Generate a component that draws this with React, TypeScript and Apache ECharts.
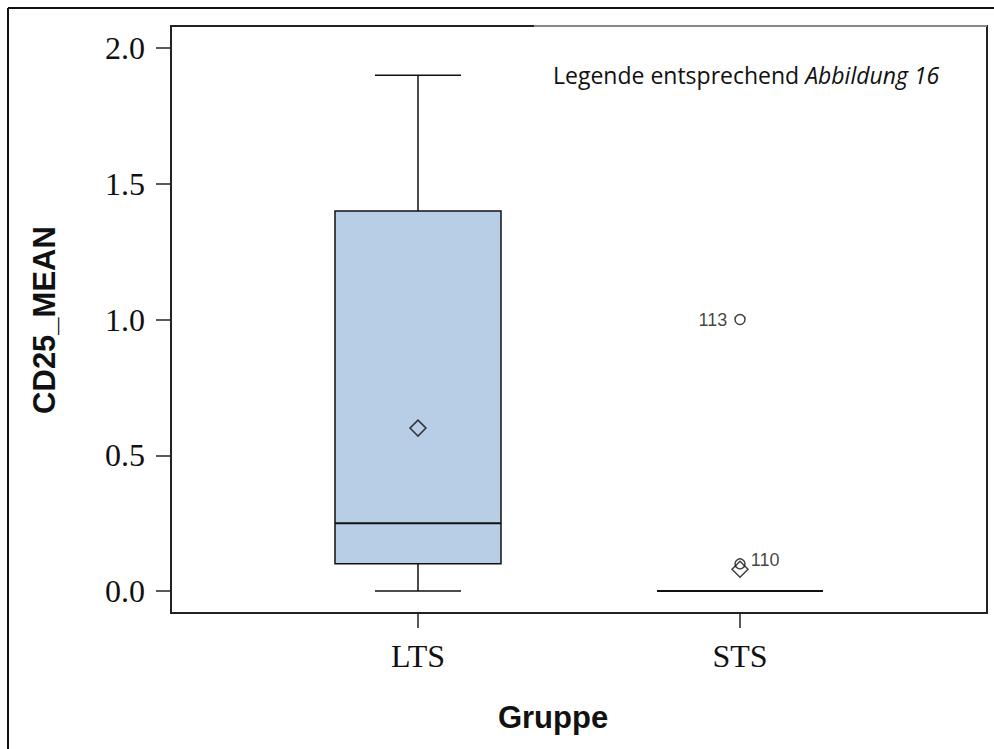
import React, { useEffect, useRef } from "react";
import * as echarts from "echarts";

const categories = ["LTS", "STS"];
// [x, min, q1, median, q3, max]
const boxStats = [
  [1, 0.0, 0.1, 0.25, 1.4, 1.9],
  [2, 0.0, 0.0, 0.0, 0.0, 0.0],
];
const means = [
  [1, 0.6],
  [2, 0.08],
];
const outliers = [
  { value: [2, 1.0], id: "113", side: "left" },
  { value: [2, 0.1], id: "110", side: "right" },
];
const yTicks = [0, 0.5, 1.0, 1.5, 2.0];
const xTicks = [1, 2];

export default function App() {
  const ref = useRef<HTMLDivElement>(null);
  useEffect(() => {
    const chart = echarts.init(ref.current!, undefined, { renderer: "svg" });
    const option: any = {
      animation: false,
      backgroundColor: "#fff",
      grid: {
        left: 171,
        top: 26,
        right: 7,
        bottom: 136,
        show: true,
        borderColor: "#222",
        borderWidth: 2,
        backgroundColor: "transparent",
        outerBoundsMode: "none",
      },
      xAxis: {
        type: "value",
        min: 0.233,
        max: 2.767,
        axisLine: { show: false, onZero: false },
        splitLine: { show: false },
        axisTick: {
          show: true,
          customValues: xTicks,
          length: 15,
          lineStyle: { color: "#222", width: 1.5 },
        },
        axisLabel: {
          customValues: xTicks,
          formatter: (v: number) => categories[Math.round(v) - 1] ?? "",
          fontFamily: "Liberation Serif",
          fontSize: 32,
          color: "#111",
          margin: 27,
        },
      },
      yAxis: {
        type: "value",
        min: -0.081,
        max: 2.081,
        axisLine: { show: false, onZero: false },
        splitLine: { show: false },
        axisTick: {
          show: true,
          customValues: yTicks,
          length: 15,
          lineStyle: { color: "#222", width: 1.5 },
        },
        axisLabel: {
          customValues: yTicks,
          formatter: (v: number) => v.toFixed(1),
          fontFamily: "Liberation Serif",
          fontSize: 32,
          color: "#111",
          margin: 26,
        },
      },
      series: [
        {
          type: "custom",
          data: boxStats,
          encode: { x: 0, y: [1, 2, 3, 4, 5] },
          renderItem: (params: any, api: any) => {
            const x = api.value(0);
            const pMin = api.coord([x, api.value(1)]);
            const pQ1 = api.coord([x, api.value(2)]);
            const pMed = api.coord([x, api.value(3)]);
            const pQ3 = api.coord([x, api.value(4)]);
            const pMax = api.coord([x, api.value(5)]);
            const cx = pQ1[0];
            const hw = 83;
            const cw = 43;
            const ls = { stroke: "#111", lineWidth: 1.5 };
            return {
              type: "group",
              children: [
                { type: "line", shape: { x1: cx, y1: pMin[1], x2: cx, y2: pQ1[1] }, style: ls },
                { type: "line", shape: { x1: cx, y1: pQ3[1], x2: cx, y2: pMax[1] }, style: ls },
                { type: "line", shape: { x1: cx - cw, y1: pMin[1], x2: cx + cw, y2: pMin[1] }, style: ls },
                { type: "line", shape: { x1: cx - cw, y1: pMax[1], x2: cx + cw, y2: pMax[1] }, style: ls },
                {
                  type: "rect",
                  shape: { x: cx - hw, y: pQ3[1], width: 2 * hw, height: pQ1[1] - pQ3[1] },
                  style: { fill: "#b8cee7", stroke: "#111", lineWidth: 1.5 },
                },
                { type: "line", shape: { x1: cx - hw, y1: pMed[1], x2: cx + hw, y2: pMed[1] }, style: { stroke: "#111", lineWidth: 2 } },
              ],
            };
          },
          z: 2,
        },
        {
          type: "scatter",
          data: means,
          symbol: "diamond",
          symbolSize: 16,
          itemStyle: { color: "transparent", borderColor: "#111", borderWidth: 1.5 },
          z: 5,
        },
        {
          type: "scatter",
          data: outliers.map((o) => ({
            value: o.value,
            label: {
              show: true,
              formatter: o.id,
              position: o.side === "left" ? "left" : "right",
              offset: o.side === "left" ? [-2, 0] : [0, -4],
              fontFamily: "Liberation Sans",
              fontSize: 18,
              color: "#111",
            },
          })),
          symbol: "circle",
          symbolSize: 10,
          itemStyle: { color: "transparent", borderColor: "#111", borderWidth: 1.5 },
          z: 5,
        },
      ],
      graphic: [
        {
          type: "line",
          shape: { x1: 8, y1: 8, x2: 994, y2: 8 },
          style: { stroke: "#111", lineWidth: 2 },
        },
        {
          type: "line",
          shape: { x1: 8, y1: 8, x2: 8, y2: 749 },
          style: { stroke: "#111", lineWidth: 2 },
        },
        {
          type: "line",
          shape: { x1: 534, y1: 26, x2: 987, y2: 26 },
          style: { stroke: "#888", lineWidth: 2 },
          z: 10,
        },
        {
          type: "text",
          x: 553,
          y: 75,
          style: {
            text: "{n|Legende entsprechend }{i|Abbildung 16}",
            verticalAlign: "middle",
            rich: {
              n: { fontFamily: "Open Sans", fontSize: 23, fill: "#111" },
              i: { fontFamily: "Open Sans", fontSize: 23, fontStyle: "italic", fill: "#111" },
            },
          },
        },
        {
          type: "text",
          x: 44,
          y: 320,
          rotation: Math.PI / 2,
          style: {
            text: "CD25_MEAN",
            fontFamily: "Liberation Sans",
            fontWeight: "bold",
            fontSize: 31,
            fill: "#111",
            align: "center",
            verticalAlign: "middle",
          },
        },
        {
          type: "text",
          x: 553,
          y: 717,
          style: {
            text: "Gruppe",
            fontFamily: "Liberation Sans",
            fontWeight: "bold",
            fontSize: 31,
            fill: "#111",
            align: "center",
            verticalAlign: "middle",
          },
        },
      ],
    };
    chart.setOption(option);
    return () => chart.dispose();
  }, []);
  return (
    <div
      ref={ref}
      style={{ position: "absolute", left: 0, top: 0, width: 994, height: 749 }}
    />
  );
}
